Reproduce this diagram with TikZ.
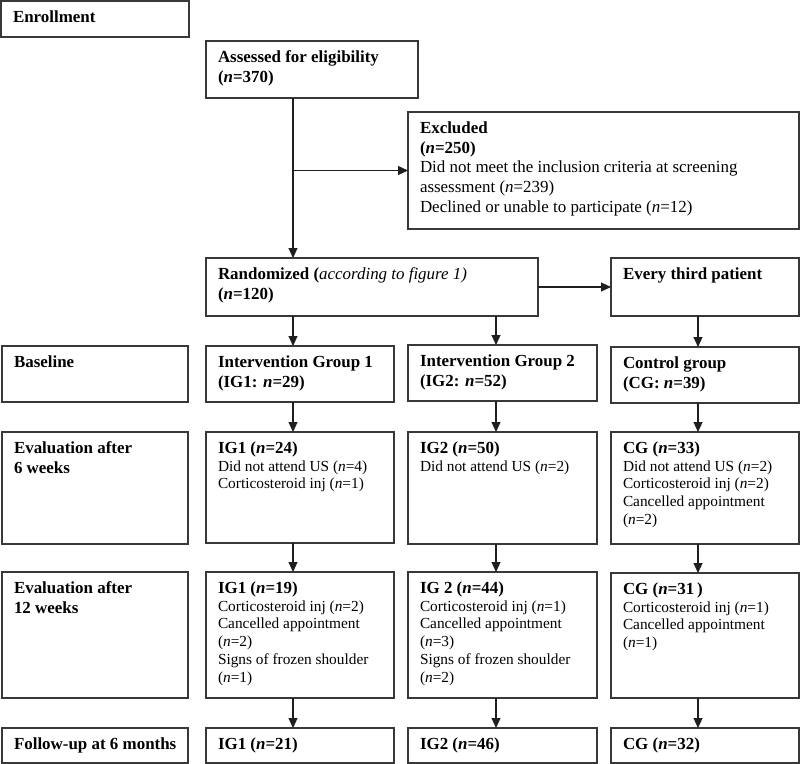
\documentclass[tikz,border=0pt]{standalone}
\usepackage{fontspec}
\setmainfont{Liberation Serif}
\usetikzlibrary{arrows.meta,fit}
\newcommand\hdfont{\fontsize{17}{19.7}\selectfont}
\newcommand\dtfont{\fontsize{15.4}{17.8}\selectfont}
\newcommand\hd[1]{{\fontsize{17}{17.8}\selectfont\bfseries #1}}
\newcommand\nn{\textit{n}}
\newcommand\boxtext[2]{\node[txt] at ([xshift=12bp,yshift=-21.5bp]#1.north west) {\parbox[t]{380bp}{#2}};}
\begin{document}
\begin{tikzpicture}[x=1bp,y=-1bp,
  frame/.style={draw=black!78, line width=1.3bp, inner sep=0pt, outer sep=0pt},
  txt/.style={anchor=base west, inner sep=0pt, outer sep=0pt},
  arr/.style={draw=black!88, line width=1.1bp, -{Triangle[length=10bp,width=9bp]}}]
\useasboundingbox (0,0) rectangle (800,764);
\fill[white] (0,0) rectangle (800,764);
% boxes
\node[frame, fit={(1,1) (189,37)}] (enroll) {};
\node[frame, fit={(206,41) (418,98)}] (assess) {};
\node[frame, fit={(408,112) (799,229)}] (excl) {};
\node[frame, fit={(206,258) (538,316)}] (rand) {};
\node[frame, fit={(611,258) (799,316)}] (every) {};
\node[frame, fit={(2,346) (188,402)}] (lbase) {};
\node[frame, fit={(206,346) (394,402)}] (ig1a) {};
\node[frame, fit={(408,345) (597,401)}] (ig2a) {};
\node[frame, fit={(611,347) (799,403)}] (cga) {};
\node[frame, fit={(2,432) (188,544)}] (lsix) {};
\node[frame, fit={(206,432) (394,543)}] (ig1b) {};
\node[frame, fit={(408,432) (597,544)}] (ig2b) {};
\node[frame, fit={(611,432) (799,544)}] (cgb) {};
\node[frame, fit={(2,572) (188,698)}] (ltw) {};
\node[frame, fit={(206,572) (394,698)}] (ig1c) {};
\node[frame, fit={(408,572) (597,698)}] (ig2c) {};
\node[frame, fit={(611,573) (799,698)}] (cgc) {};
\node[frame, fit={(2,728) (188,763)}] (lfu) {};
\node[frame, fit={(206,728) (394,763)}] (ig1d) {};
\node[frame, fit={(408,728) (597,763)}] (ig2d) {};
\node[frame, fit={(611,728) (799,763)}] (cgd) {};
% texts
\boxtext{enroll}{\hdfont\textbf{Enrollment}}
\boxtext{assess}{\hdfont\textbf{Assessed for eligibility\\(\nn=370)}}
\boxtext{excl}{\hdfont\textbf{Excluded\\(\nn=250)}\\Did not meet the inclusion criteria at screening\\assessment (\nn=239)\\Declined or unable to participate (\nn=12)}
\boxtext{rand}{\hdfont\textbf{Randomized (}\textit{according to figure 1)}\\\textbf{(\nn=120)}}
\boxtext{every}{\hdfont\textbf{Every third patient}}
\boxtext{lbase}{\hdfont\textbf{Baseline}}
\boxtext{ig1a}{\hdfont\textbf{Intervention Group 1\\(IG1: \nn=29)}}
\boxtext{ig2a}{\hdfont\textbf{Intervention Group 2\\(IG2: \nn=52)}}
\boxtext{cga}{\hdfont\textbf{Control group\\(CG: \nn=39)}}
\boxtext{lsix}{\hdfont\textbf{Evaluation after\\6 weeks}}
\boxtext{ig1b}{\dtfont\hd{IG1 (\nn=24)}\\Did not attend US (\nn=4)\\Corticosteroid inj (\nn=1)}
\boxtext{ig2b}{\dtfont\hd{IG2 (\nn=50)}\\Did not attend US (\nn=2)}
\boxtext{cgb}{\dtfont\hd{CG (\nn=33)}\\Did not attend US (\nn=2)\\Corticosteroid inj (\nn=2)\\Cancelled appointment\\(\nn=2)}
\boxtext{ltw}{\hdfont\textbf{Evaluation after\\12 weeks}}
\boxtext{ig1c}{\dtfont\hd{IG1 (\nn=19)}\\Corticosteroid inj (\nn=2)\\Cancelled appointment\\(\nn=2)\\Signs of frozen shoulder\\(\nn=1)}
\boxtext{ig2c}{\dtfont\hd{IG 2 (\nn=44)}\\Corticosteroid inj (\nn=1)\\Cancelled appointment\\(\nn=3)\\Signs of frozen shoulder\\(\nn=2)}
\boxtext{cgc}{\dtfont\hd{CG (\nn=31\,)}\\Corticosteroid inj (\nn=1)\\Cancelled appointment\\(\nn=1)}
\boxtext{lfu}{\hdfont\textbf{Follow-up at 6 months}}
\boxtext{ig1d}{\hdfont\textbf{IG1 (\nn=21)}}
\boxtext{ig2d}{\hdfont\textbf{IG2 (\nn=46)}}
\boxtext{cgd}{\hdfont\textbf{CG (\nn=32)}}
% connectors
\coordinate (c1) at (293,0);
\coordinate (c2) at (496,0);
\coordinate (c3) at (698,0);
\draw[arr] (c1 |- assess.south) -- (c1 |- rand.north);
\draw[arr] (c1 |- excl.west) -- (excl.west);
\draw[arr] (rand.east) -- (every.west);
\draw[arr] (c1 |- rand.south) -- (c1 |- ig1a.north);
\draw[arr] (c2 |- rand.south) -- (c2 |- ig2a.north);
\draw[arr] (c3 |- every.south) -- (c3 |- cga.north);
\draw[arr] (c1 |- ig1a.south) -- (c1 |- ig1b.north);
\draw[arr] (c2 |- ig2a.south) -- (c2 |- ig2b.north);
\draw[arr] (c3 |- cga.south) -- (c3 |- cgb.north);
\draw[arr] (c1 |- ig1b.south) -- (c1 |- ig1c.north);
\draw[arr] (c2 |- ig2b.south) -- (c2 |- ig2c.north);
\draw[arr] (c3 |- cgb.south) -- (c3 |- cgc.north);
\draw[arr] (c1 |- ig1c.south) -- (c1 |- ig1d.north);
\draw[arr] (c2 |- ig2c.south) -- (c2 |- ig2d.north);
\draw[arr] (c3 |- cgc.south) -- (c3 |- cgd.north);
\end{tikzpicture}
\end{document}
